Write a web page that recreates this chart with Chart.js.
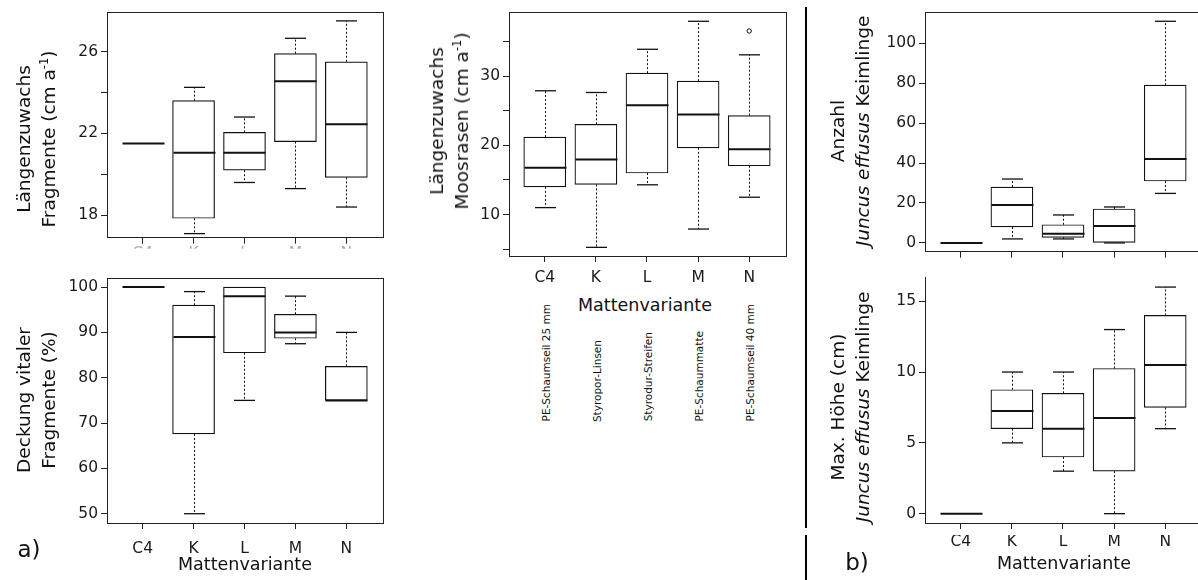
<!DOCTYPE html>
<html><head><meta charset="utf-8">
<script src="https://cdn.jsdelivr.net/npm/chart.js@4.4.1/dist/chart.umd.min.js"></script>
<style>
html,body{margin:0;padding:0;background:#fff;}
#page{position:relative;width:1198px;height:580px;overflow:hidden;font-family:'DejaVu Sans',Verdana,sans-serif;color:#111;background:#fff;}
canvas{position:absolute;}
.yt{position:absolute;transform:translate(-50%,-50%) rotate(-90deg);white-space:nowrap;text-align:center;font-size:18.5px;line-height:25px;}
.xt{position:absolute;transform:translate(-50%,-50%);white-space:nowrap;font-size:17.5px;line-height:20px;}
.cd{position:absolute;writing-mode:vertical-rl;transform:rotate(180deg);white-space:nowrap;font-size:10.5px;line-height:12px;}
.pl{position:absolute;transform:translate(-50%,-50%);font-size:23px;line-height:28px;}
.vdiv{position:absolute;background:#000;width:2px;left:804.5px;}
.cut{position:absolute;background:#fff;left:930px;width:268px;top:529px;height:6px;}
sup{font-size:0.62em;line-height:0;vertical-align:0.6em;}
</style></head>
<body><div id="page">
<canvas id="c1" width="395" height="250" style="left:0;top:0"></canvas>
<canvas id="c2" width="395" height="300" style="left:0;top:265px"></canvas>
<canvas id="c3" width="400" height="290" style="left:400px;top:0"></canvas>
<canvas id="c4" width="400" height="264" style="left:815px;top:0"></canvas>
<canvas id="c5" width="400" height="315" style="left:815px;top:265px"></canvas>

<div class="yt" style="left:35.5px;top:139px">Längenzuwachs<br>Fragmente (cm a<sup>-1</sup>)</div>
<div class="yt" style="left:35.5px;top:400px">Deckung vitaler<br>Fragmente (%)</div>
<div class="yt" style="left:449px;top:121px">Längenzuwachs<br>Moosrasen (cm a<sup>-1</sup>)</div>
<div class="yt" style="left:849.5px;top:131px">Anzahl<br><i>Juncus effusus</i> Keimlinge</div>
<div class="yt" style="left:849.5px;top:407px">Max. Höhe (cm)<br><i>Juncus effusus</i> Keimlinge</div>

<div class="xt" style="left:245px;top:564px">Mattenvariante</div>
<div class="xt" style="left:645px;top:305px">Mattenvariante</div>
<div class="xt" style="left:1064px;top:563px">Mattenvariante</div>

<div class="pl" style="left:29px;top:549px">a)</div>
<div class="pl" style="left:857px;top:562px">b)</div>

<div class="vdiv" style="top:7px;height:521px"></div>
<div class="vdiv" style="top:535px;height:45px"></div>
</div>
<script>
// ---------- data ----------
const categories = ['C4', 'K', 'L', 'M', 'N'];
const matDescriptions = ['PE-Schaumseil 25 mm', 'Styropor-Linsen', 'Styrodur-Streifen', 'PE-Schaummatte', 'PE-Schaumseil 40 mm'];

// Längenzuwachs Fragmente (cm a-1)
const fragMin = [21.5, 17.1, 19.6, 19.3, 18.4];
const fragQ1  = [21.5, 17.85, 20.2, 21.6, 19.85];
const fragMed = [21.5, 21.05, 21.05, 24.55, 22.45];
const fragQ3  = [21.5, 23.6, 22.05, 25.9, 25.5];
const fragMax = [21.5, 24.25, 22.8, 26.65, 27.5];
const fragTicks = [18, 20, 22, 24, 26];
const fragTickLabels = [18, 22, 26];

// Deckung vitaler Fragmente (%)
const covMin = [100, 50, 75, 87.5, 75];
const covQ1  = [100, 67.6, 85.5, 88.7, 75];
const covMed = [100, 89, 98, 90, 75];
const covQ3  = [100, 96, 100, 94, 82.5];
const covMax = [100, 99, 100, 98, 90];
const covTicks = [50, 60, 70, 80, 90, 100];

// Längenzuwachs Moosrasen (cm a-1)
const mossMin = [11.0, 5.25, 14.3, 7.9, 12.5];
const mossQ1  = [14.0, 14.35, 16.0, 19.65, 17.05];
const mossMed = [16.75, 17.95, 25.8, 24.45, 19.45];
const mossQ3  = [21.2, 23.05, 30.45, 29.3, 24.3];
const mossMax = [27.9, 27.65, 33.9, 37.95, 33.1];
const mossOutlierCat = [4];
const mossOutlierVal = [36.55];
const mossTicks = [5, 10, 15, 20, 25, 30, 35];
const mossTickLabels = [10, 20, 30];

// Anzahl Juncus effusus Keimlinge
const cntMin = [0, 2, 2, 0, 24.8];
const cntQ1  = [0, 8, 2.8, 0.3, 31];
const cntMed = [0, 19, 4.6, 8.5, 42];
const cntQ3  = [0, 28, 9.1, 17, 79];
const cntMax = [0, 32, 14, 18, 111];
const cntTicks = [0, 20, 40, 60, 80, 100];

// Max. Höhe (cm) Juncus effusus Keimlinge
const hgtMin = [0, 5, 3, 0, 6];
const hgtQ1  = [0, 6, 4, 3, 7.5];
const hgtMed = [0, 7.25, 6, 6.75, 10.5];
const hgtQ3  = [0, 8.75, 8.5, 10.25, 14];
const hgtMax = [0, 10, 10, 13, 16];
const hgtTicks = [0, 5, 10, 15];

// ---------- drawing ----------
const LINE = '#111';
Chart.defaults.font.family = "'DejaVu Sans', Verdana, sans-serif";
Chart.defaults.font.size = 15.5;
Chart.defaults.color = '#1a1a1a';

const boxPlugin = {
  id: 'boxWhiskers',
  afterDatasetsDraw(chart, args, o) {
    if (!o || !o.med) return;
    const {ctx, scales: {x, y}} = chart;
    const meta = chart.getDatasetMeta(0);
    const seg = (x1, y1, x2, y2) => { ctx.beginPath(); ctx.moveTo(x1, y1); ctx.lineTo(x2, y2); ctx.stroke(); };
    ctx.save();
    ctx.strokeStyle = LINE;
    o.med.forEach((m, i) => {
      const cx = Math.round(x.getPixelForValue(i)) + 0.5;
      const half = meta.data[i].width / 2;
      const capHalf = half / 2;
      const yQ1 = y.getPixelForValue(o.q1[i]), yQ3 = y.getPixelForValue(o.q3[i]);
      const yMin = y.getPixelForValue(o.min[i]), yMax = y.getPixelForValue(o.max[i]);
      ctx.lineWidth = 1;
      ctx.setLineDash([2, 2]);
      if (o.max[i] > o.q3[i]) seg(cx, yQ3, cx, yMax);
      if (o.min[i] < o.q1[i]) seg(cx, yQ1, cx, yMin);
      ctx.setLineDash([]);
      ctx.lineWidth = 1.3;
      if (o.max[i] > o.q3[i]) seg(cx - capHalf, yMax, cx + capHalf, yMax);
      if (o.min[i] < o.q1[i]) seg(cx - capHalf, yMin, cx + capHalf, yMin);
      ctx.lineWidth = 2;
      const ym = y.getPixelForValue(m);
      seg(cx - half, ym, cx + half, ym);
    });
    if (o.framed) {
      const a = chart.chartArea;
      ctx.lineWidth = 1;
      ctx.strokeStyle = '#222';
      ctx.strokeRect(Math.round(a.left) + 0.5, Math.round(a.top) + 0.5, Math.round(a.right - a.left), Math.round(a.bottom - a.top));
    }
    ctx.restore();
  }
};
Chart.register(boxPlugin);

function boxChart(id, c) {
  const outs = (c.outCat || []).map((k, j) => ({x: k, y: c.outVal[j]}));
  return new Chart(document.getElementById(id), {
    type: 'bar',
    data: {
      datasets: [
        {
          type: 'bar',
          data: categories.map((name, i) => ({x: i, y: [c.q1[i], c.q3[i]]})),
          backgroundColor: '#fff', borderColor: LINE, borderWidth: 1.2,
          borderSkipped: false, barThickness: 42
        },
        {
          type: 'scatter', data: outs,
          pointRadius: 2.2, borderColor: LINE, backgroundColor: '#fff', borderWidth: 1
        }
      ]
    },
    options: {
      responsive: false, animation: false, devicePixelRatio: 1,
      layout: {padding: {top: c.padTop, right: c.padRight, left: 0, bottom: 0}},
      plugins: {
        legend: {display: false}, tooltip: {enabled: false},
        boxWhiskers: {min: c.min, q1: c.q1, med: c.med, q3: c.q3, max: c.max, framed: c.framed}
      },
      scales: {
        x: {
          type: 'linear', min: -0.7, max: 4.72, offset: false,
          afterBuildTicks: s => { s.ticks = categories.map((n, i) => ({value: i})); },
          afterFit: s => { s.height = c.xH; },
          ticks: {
            autoSkip: false, maxRotation: 0, padding: c.xPad,
            color: c.xLabelColor || '#1a1a1a',
            callback: v => c.showX ? categories[v] : ''
          },
          grid: {offset: false, drawOnChartArea: false, drawTicks: true, tickLength: 6, color: '#222', lineWidth: 1},
          border: {display: true, color: '#222', width: 1}
        },
        y: {
          type: 'linear', min: c.yMin, max: c.yMax, beginAtZero: false,
          afterBuildTicks: s => { s.ticks = c.ticks.map(v => ({value: v})); },
          afterFit: s => { s.width = c.yW; },
          ticks: {
            padding: 3,
            callback: v => (c.labels ? (c.labels.includes(v) ? String(v) : '') : String(v))
          },
          grid: {drawOnChartArea: false, drawTicks: true, tickLength: 6, color: '#222', lineWidth: 1},
          border: {display: true, color: '#222', width: 1}
        }
      }
    }
  });
}

const ch1 = boxChart('c1', {min: fragMin, q1: fragQ1, med: fragMed, q3: fragQ3, max: fragMax,
  yMin: 16.9, yMax: 27.92, ticks: fragTicks, labels: fragTickLabels,
  yW: 107, padTop: 11, padRight: 12, xH: 11, xPad: 1, showX: true, xLabelColor: '#aaa', framed: true});
const ch2 = boxChart('c2', {min: covMin, q1: covQ1, med: covMed, q3: covQ3, max: covMax,
  yMin: 47.95, yMax: 102, ticks: covTicks,
  yW: 107, padTop: 13, padRight: 12, xH: 42, xPad: 11, showX: true, framed: true});
const ch3 = boxChart('c3', {min: mossMin, q1: mossQ1, med: mossMed, q3: mossQ3, max: mossMax,
  outCat: mossOutlierCat, outVal: mossOutlierVal,
  yMin: 4.0, yMax: 39.25, ticks: mossTicks, labels: mossTickLabels,
  yW: 109, padTop: 11, padRight: 14, xH: 34, xPad: 7, showX: true, framed: true});
const ch4 = boxChart('c4', {min: cntMin, q1: cntQ1, med: cntMed, q3: cntQ3, max: cntMax,
  yMin: -4.4, yMax: 115.5, ticks: cntTicks,
  yW: 110, padTop: 11, padRight: 13, xH: 8, xPad: 0, showX: false, framed: true});
const ch5 = boxChart('c5', {min: hgtMin, q1: hgtQ1, med: hgtMed, q3: hgtQ3, max: hgtMax,
  yMin: -0.66, yMax: 16.69, ticks: hgtTicks,
  yW: 110, padTop: 12, padRight: 13, xH: 57, xPad: 4, showX: true, framed: false});

// rotated descriptions under the moss panel, placed at the library's category positions
const page = document.getElementById('page');
const c3el = document.getElementById('c3');
matDescriptions.forEach((t, i) => {
  const d = document.createElement('div');
  d.className = 'cd';
  d.textContent = t;
  d.style.left = (c3el.offsetLeft + ch3.scales.x.getPixelForValue(i) + 1 - 6) + 'px';
  d.style.bottom = (580 - 421.7) + 'px';
  page.appendChild(d);
});
// slight gap strip as in the source figure (tops of the lower-right tick labels are cut)
const cut = document.createElement('div');
cut.className = 'cut';
page.appendChild(cut);
</script>
</body></html>
